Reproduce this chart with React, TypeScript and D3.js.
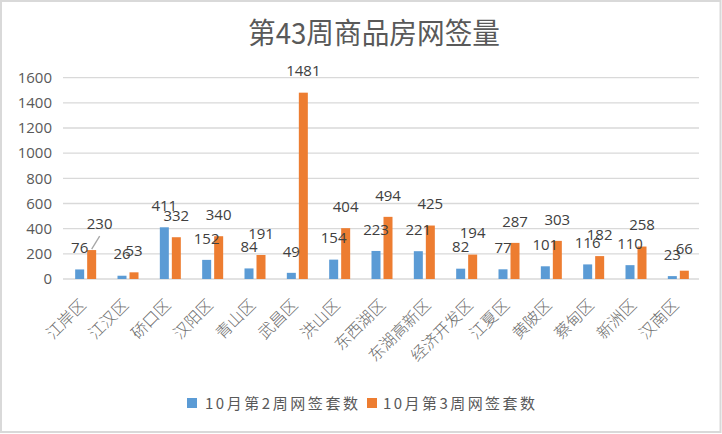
import React from "react";
import * as d3 from "d3";

const title = "第43周商品房网签量";
const categories = [
  "江岸区", "江汉区", "硚口区", "汉阳区", "青山区", "武昌区", "洪山区", "东西湖区",
  "东湖高新区", "经济开发区", "江夏区", "黄陂区", "蔡甸区", "新洲区", "汉南区",
];
const seriesNames = ["10月第2周网签套数", "10月第3周网签套数"];
const week2 = [76, 26, 411, 152, 84, 49, 154, 223, 221, 82, 77, 101, 116, 110, 23];
const week3 = [230, 53, 332, 340, 191, 1481, 404, 494, 425, 194, 287, 303, 182, 258, 66];
const yTicks = [0, 200, 400, 600, 800, 1000, 1200, 1400, 1600];
const colors = ["#5B9BD5", "#ED7D31"];

// manual label nudges (Excel: one label was dragged, with a leader line)
const labelNudge: { s: number; i: number; dx: number; dy: number; leader: boolean }[] = [
  { s: 1, i: 0, dx: 8, dy: -4.5, leader: true },
];

const W = 722;
const H = 434;
const plot = { left: 64, right: 699, top: 77.7, bottom: 279 };
const numFont = "'Open Sans', 'Noto Sans CJK SC', sans-serif";
const cjkFont = "'Noto Sans CJK SC', 'Open Sans', sans-serif";

export default function App() {
  const x = d3.scaleBand<string>().domain(categories).range([plot.left, plot.right]).paddingInner(0);
  const xs = d3.scaleBand<number>().domain([0, 1]).range([-10, 11]).paddingInner(0.25);
  const y = d3.scaleLinear().domain([0, 1600]).range([plot.bottom, plot.top]);
  const series = [week2, week3];

  const labels: JSX.Element[] = [];
  const bars: JSX.Element[] = [];
  series.forEach((vals, s) => {
    vals.forEach((v, i) => {
      const c = (x(categories[i]) as number) + x.bandwidth() / 2;
      const bx = c + (xs(s) as number);
      const bw = xs.bandwidth();
      const top = y(v);
      bars.push(
        <rect key={`b${s}-${i}`} x={bx} y={top} width={bw} height={y(0) - top} fill={colors[s]} />
      );
      const n = labelNudge.find((d) => d.s === s && d.i === i);
      const lx = bx + bw / 2 + (n ? n.dx : 0);
      const ly = top - 21.5 + (n ? n.dy : 0);
      if (n && n.leader) {
        labels.push(
          <line key={`l${s}-${i}`} x1={bx + bw / 2} y1={top - 1} x2={lx} y2={ly + 12}
            stroke="#A6A6A6" strokeWidth={1.3} />
        );
      }
      labels.push(
        <text key={`t${s}-${i}`} x={lx} y={ly} dy="0.35em" textAnchor="middle"
          fontFamily={numFont} fontSize={15} fill="#404040">{v}</text>
      );
    });
  });

  return (
    <svg width={W} height={H} style={{ position: "absolute", left: 0, top: 0, background: "#fff" }}>
      <rect x={0} y={0} width={W} height={H} fill="#fff" />
      <rect x={1} y={1} width={719.5} height={431} fill="none" stroke="#D9D9D9" strokeWidth={2} />
      <text x={248} y={44} fontFamily={cjkFont} fontSize={29} fill="#595959"
        textLength={252} lengthAdjust="spacingAndGlyphs">{title}</text>
      {yTicks.map((t) => (
        <g key={t}>
          <line x1={plot.left - 1} x2={plot.right} y1={y(t)} y2={y(t)} stroke="#D9D9D9" strokeWidth={1.3} />
          <text x={52} y={y(t)} dy="0.35em" textAnchor="end" fontFamily={numFont} fontSize={15} fill="#595959">{t}</text>
        </g>
      ))}
      {bars}
      {labels}
      {categories.map((cat, i) => {
        const c = (x(cat) as number) + x.bandwidth() / 2;
        const ax = c + 2 + 3 * (cat.length - 3);
        return (
          <text key={cat} transform={`translate(${ax},306) rotate(-45)`} textAnchor="end"
            fontFamily={cjkFont} fontSize={16} fontWeight={300} fill="#6b6b6b">{cat}</text>
        );
      })}
      <rect x={187} y={398} width={10} height={10} fill={colors[0]} />
      <text x={205} y={409} fontFamily={cjkFont} fontSize={15} fill="#595959" textLength={153}>{seriesNames[0]}</text>
      <rect x={367} y={398} width={10} height={10} fill={colors[1]} />
      <text x={383} y={409} fontFamily={cjkFont} fontSize={15} fill="#595959" textLength={152}>{seriesNames[1]}</text>
    </svg>
  );
}
